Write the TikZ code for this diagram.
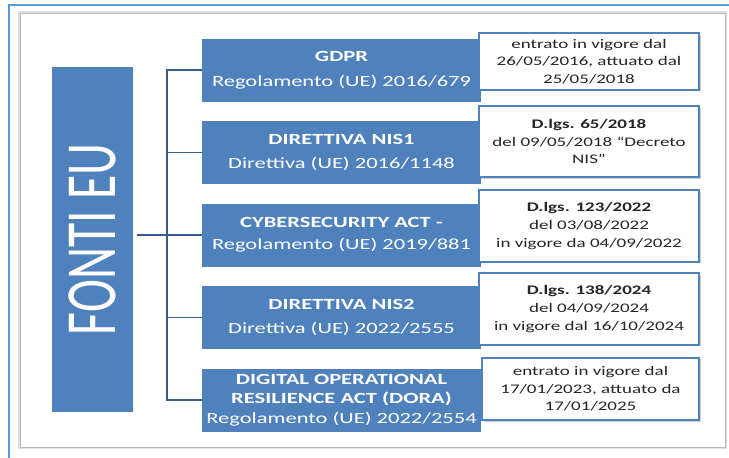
\documentclass[tikz,border=0pt]{standalone}
\usepackage{fontspec}
\setmainfont{Carlito}
\usetikzlibrary{shadows}
\definecolor{boxblue}{HTML}{4F81BD}
\definecolor{frameblue}{HTML}{5B9BD5}
\definecolor{linkblue}{HTML}{385D8A}
\definecolor{notegray}{HTML}{262626}
\tikzset{
  squash/.style={yscale=0.69},
  actbox/.style={squash, fill=boxblue, text=white, minimum width=279pt,
    minimum height=91.3pt, inner sep=0pt, align=center,
    font=\fontsize{22.5}{28}\selectfont},
  notebox/.style={squash, fill=white, draw=boxblue, line width=1.8pt,
    text=notegray, minimum width=220pt, inner sep=0pt, align=center,
    font=\fontsize{19}{25.5}\selectfont,
    drop shadow={shadow xshift=1.5pt, shadow yshift=-1.5pt, fill=gray!60, opacity=.6}},
  link/.style={draw=linkblue, line width=1.8pt},
}
\begin{document}
\begin{tikzpicture}[x=1pt, y=-1pt]
  \useasboundingbox (0,0) rectangle (729,458);
  % frame and panel
  \draw[frameblue, line width=2pt] (8,5) -- (729,5);
  \draw[frameblue, line width=2pt] (9,5) -- (9,458);
  \draw[gray!25, line width=4pt] (20,13) rectangle (725,447);
  \filldraw[fill=white, draw=gray!55, line width=1pt] (20,13) rectangle (725,447);

  % left box
  \node[squash, rotate=90, fill=boxblue, text=white, minimum width=500pt,
    minimum height=81pt, inner sep=0pt, font=\fontsize{72}{72}\selectfont]
    (fonti) at (92.5,239.5) {FONTI EU};

  % acts
  \node[actbox] (b1) at (341.5,70) {\textbf{GDPR}\\[8pt] Regolamento (UE) 2016/679};
  \node[actbox] (b2) at (341.5,152.5) {\textbf{DIRETTIVA NIS1}\\[8pt] Direttiva (UE) 2016/1148};
  \node[actbox] (b3) at (341.5,235) {\textbf{CYBERSECURITY ACT -}\\[4pt] Regolamento (UE) 2019/881};
  \node[actbox] (b4) at (341.5,317.5) {\textbf{DIRETTIVA NIS2}\\[8pt] Direttiva (UE) 2022/2555};
  \node[actbox] (b5) at (341.5,400) {\textbf{DIGITAL OPERATIONAL}\\ \textbf{RESILIENCE ACT (DORA)}\\ Regolamento (UE) 2022/2554};

  % notes
  \node[notebox, minimum height=82.6pt] (w1) at (589,61.5)
    {entrato in vigore dal\\ 26/05/2016, attuato dal\\ 25/05/2018};
  \node[notebox, minimum height=102.9pt] (w2) at (589,141.5)
    {\textbf{D.lgs. 65/2018}\\ del 09/05/2018 “Decreto\\ NIS”};
  \node[notebox, minimum height=104.3pt] (w3) at (589,226)
    {\textbf{D.lgs. 123/2022}\\ del 03/08/2022\\ in vigore da 04/09/2022};
  \node[notebox, minimum height=104.3pt] (w4) at (589,309)
    {\textbf{D.lgs. 138/2024}\\ del 04/09/2024\\ in vigore dal 16/10/2024};
  \node[notebox, minimum width=217pt, minimum height=89.9pt] (w5) at (590.5,389)
    {entrato in vigore dal\\ 17/01/2023, attuato da\\ 17/01/2025};

  % bracket
  \coordinate (spine) at (167,0);
  \draw[link] (b1.west) -- (spine |- b1.west) -- (spine |- b5.west) -- (b5.west);
  \foreach \i in {2,3,4}
    \draw[link] (spine |- b\i.west) -- (b\i.west);
  \draw[link] ([xshift=4pt]fonti.south |- b3.west) -- (spine |- b3.west);
\end{tikzpicture}
\end{document}
